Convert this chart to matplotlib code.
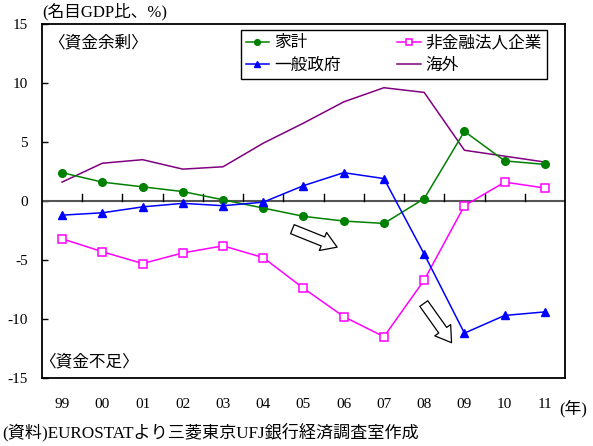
import matplotlib
matplotlib.use("Agg")
import matplotlib.pyplot as plt
from matplotlib.patches import FancyArrowPatch
import matplotlib.transforms as mtransforms

plt.rcParams['font.family'] = ['Liberation Serif', 'Noto Sans CJK JP', 'DejaVu Sans']

years = ['99', '00', '01', '02', '03', '04', '05', '06', '07', '08', '09', '10', '11']
households = [2.4, 1.6, 1.2, 0.8, 0.1, -0.6, -1.3, -1.7, -1.9, 0.2, 5.9, 3.4, 3.1]
nonfin_corp = [-3.2, -4.3, -5.3, -4.4, -3.8, -4.8, -7.4, -9.8, -11.5, -6.7, -0.4, 1.6, 1.1]
government = [-1.2, -1.0, -0.5, -0.2, -0.4, -0.1, 1.3, 2.4, 1.9, -4.5, -11.2, -9.7, -9.4]
overseas = [1.6, 3.2, 3.5, 2.7, 2.9, 4.9, 6.6, 8.4, 9.6, 9.2, 4.3, 3.8, 3.3]

fig = plt.figure(figsize=(5.93, 4.46), dpi=100)
ax = fig.add_axes([0.0708, 0.1525, 0.8820, 0.7937])

x = list(range(len(years)))
h1, = ax.plot(x, households, color='#008000', lw=1.1, marker='o', ms=5.5, mfc='#008000', mec='#008000', label='家計', zorder=4)
h2, = ax.plot(x, nonfin_corp, color='#FF00FF', lw=1.1, marker='s', ms=5.5, mfc='white', mec='#FF00FF', mew=1.1, label='非金融法人企業', zorder=4)
h3, = ax.plot(x, government, color='#0000FF', lw=1.1, marker='^', ms=6, mfc='#0000FF', mec='#0000FF', label='一般政府', zorder=4)
h4, = ax.plot(x, overseas, color='#800080', lw=1.1, label='海外', zorder=3)

ax.set_xlim(-0.5, len(years) - 0.5)
ax.set_ylim(-15, 15)
ax.set_yticks([-15, -10, -5, 0, 5, 10, 15])
ax.set_yticklabels(['-15', '-10', '-5', '0', '5', '10', '15'])
ax.tick_params(axis='y', direction='in', length=4, width=1, pad=10, labelsize=11)

for s in ['left', 'right', 'top', 'bottom']:
    ax.spines[s].set_linewidth(1.3)
    ax.spines[s].set_color('black')

# zero line with category tick marks
ax.axhline(0, color='#555555', lw=1.5, zorder=2)
ax.set_xticks([])
for i in range(len(years) - 1):
    ax.plot([i + 0.5, i + 0.5], [0, 0.6], color='black', lw=1.0, zorder=2)

# x labels below box
trans = mtransforms.blended_transform_factory(ax.transData, ax.transAxes)
for i, y in enumerate(years):
    ax.text(i, -0.075, y, transform=trans, ha='center', va='center', fontsize=11)
ax.text(len(years) - 0.65, -0.085, '(年)', transform=trans, ha='left', va='center', fontsize=12)

ax.text(0.0, 1.035, '(名目GDP比、%)', transform=ax.transAxes, ha='left', va='center', fontsize=12)
ax.text(0.012, 0.945, '〈資金余剰〉', transform=ax.transAxes, ha='left', va='center', fontsize=12)
ax.text(-0.005, 0.045, '〈資金不足〉', transform=ax.transAxes, ha='left', va='center', fontsize=12)
fig.text(0.003, 0.032, '(資料)EUROSTATより三菱東京UFJ銀行経済調査室作成', ha='left', va='center', fontsize=12.3)

leg = ax.legend([h1, h3, h2, h4], ['家計', '一般政府', '非金融法人企業', '海外'],
                ncol=2, loc='upper left', bbox_to_anchor=(0.380, 0.982), fontsize=12,
                frameon=True, fancybox=False, edgecolor='black', framealpha=1,
                handlelength=1.4, handletextpad=0.3, columnspacing=3.4, borderpad=0.3,
                labelspacing=0.4, borderaxespad=0, markerscale=0.75)
leg.get_frame().set_linewidth(1.0)

# block arrows
for (x0, y0, x1, y1) in [(5.66, -2.3, 6.9, -4.0), (8.95, -8.5, 9.72, -12.2)]:
    arr = FancyArrowPatch((x0, y0), (x1, y1), arrowstyle='simple,head_width=14,head_length=11,tail_width=7',
                          mutation_scale=1, facecolor='white', edgecolor='black', lw=0.9, zorder=5)
    ax.add_patch(arr)

fig.savefig('out.png', dpi=100)
